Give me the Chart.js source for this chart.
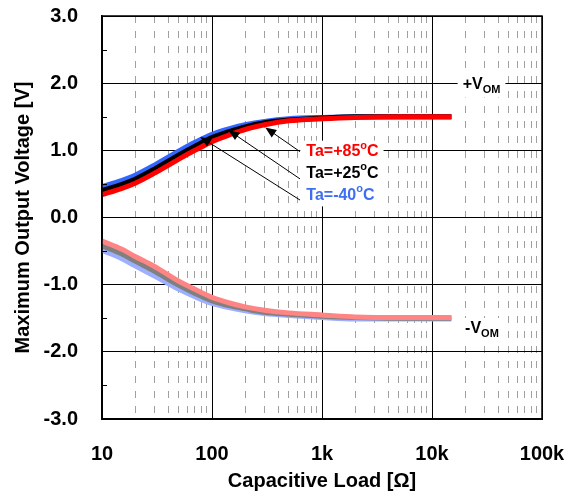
<!DOCTYPE html>
<html>
<head>
<meta charset="utf-8">
<script src="https://cdn.jsdelivr.net/npm/chart.js@4"></script>
<style>
  html, body { margin: 0; padding: 0; background: #fff; }
  #chart { display: block; }
</style>
</head>
<body>
<canvas id="chart" width="579" height="498"></canvas>
<script>
// 데이터
const CAP_LOAD = [10, 15, 20, 30, 50, 70, 100, 150, 200, 300, 500, 1000, 2000, 5000, 15000];

// +VOM
const VOH_85 = [0.34, 0.43, 0.51, 0.66, 0.87, 1.00, 1.13, 1.24, 1.31, 1.38, 1.44, 1.47, 1.49, 1.50, 1.50];
const VOH_25 = [0.40, 0.49, 0.57, 0.72, 0.93, 1.06, 1.19, 1.29, 1.35, 1.41, 1.45, 1.48, 1.50, 1.50, 1.50];
const VOH_M40 = [0.46, 0.55, 0.63, 0.78, 0.99, 1.12, 1.24, 1.33, 1.38, 1.43, 1.47, 1.49, 1.50, 1.50, 1.50];

// -VOM
const VOL_85 = [-0.35, -0.47, -0.58, -0.73, -0.95, -1.07, -1.19, -1.28, -1.33, -1.38, -1.42, -1.45, -1.48, -1.49, -1.49];
const VOL_25 = [-0.42, -0.54, -0.65, -0.80, -1.01, -1.13, -1.24, -1.32, -1.36, -1.41, -1.44, -1.47, -1.49, -1.50, -1.50];
const VOL_M40 = [-0.49, -0.61, -0.72, -0.87, -1.07, -1.18, -1.28, -1.35, -1.39, -1.43, -1.46, -1.49, -1.51, -1.51, -1.51];

// 축 눈금
const X_MAJOR = [10, 100, 1000, 10000, 100000];
const X_MAJOR_LABELS = ['10', '100', '1k', '10k', '100k'];
const X_MINOR_STEPS = [2, 3, 4, 5, 6, 7, 8, 9];
const Y_MINOR = [-2.5, -1.5, -0.5, 0.5, 1.5, 2.5];

const TEMP_LABELS = ['Ta=+85', 'Ta=+25', 'Ta=-40'];

const FONT = 'Arial, "Liberation Sans", sans-serif';

// 주석 위치 (데이터 좌표)
const TEMP_LABEL_POS = { x: 720, y: [0.98, 0.66, 0.33] };
const ARROWS = [
    { from: [631, 0.98], to: [305, 1.34] },
    { from: [631, 0.575], to: [141, 1.30] },
    { from: [631, 0.26], to: [78, 1.20] },
];
const VOM_POS = [
    { sign: '+', x: 19000, y: 1.98 },
    { sign: '-', x: 20000, y: -1.66 },
];

function series(ys) {
    return CAP_LOAD.map((x, i) => ({ x, y: ys[i] }));
}

function buildXTicks() {
    const ticks = [];
    X_MAJOR.forEach((d, i) => {
        ticks.push(d);
        if (i < X_MAJOR.length - 1) X_MINOR_STEPS.forEach(m => ticks.push(d * m));
    });
    return ticks;
}

function isDecade(v) {
    const l = Math.log10(v);
    return Math.abs(l - Math.round(l)) < 1e-9;
}

function lineDs(label, ys, color, width) {
    return {
        label,
        data: series(ys),
        borderColor: color,
        backgroundColor: color,
        borderWidth: width,
        pointRadius: 0,
        fill: false,
        cubicInterpolationMode: 'monotone',
    };
}

// 여러 크기의 글자(위첨자/아래첨자) 그리기
function richWidth(ctx, parts) {
    let w = 0;
    parts.forEach(p => {
        ctx.font = `bold ${p.size}px ${FONT}`;
        w += ctx.measureText(p.text).width;
    });
    return w;
}
function drawRich(ctx, x, y, parts, color) {
    ctx.fillStyle = color;
    ctx.textBaseline = 'middle';
    ctx.textAlign = 'left';
    parts.forEach(p => {
        ctx.font = `bold ${p.size}px ${FONT}`;
        ctx.fillText(p.text, x, y + (p.dy || 0));
        x += ctx.measureText(p.text).width;
    });
}
function tempParts(t) {
    return [{ text: t, size: 16 }, { text: 'o', size: 11, dy: -6 }, { text: 'C', size: 16 }];
}
function vomParts(sign) {
    return [{ text: sign + 'V', size: 16 }, { text: 'OM', size: 11, dy: 5 }];
}

const annotationPlugin = {
    id: 'annotations',
    beforeDatasetsDraw(chart) {
        const { ctx, scales: { x, y } } = chart;
        ctx.save();
        ctx.fillStyle = '#fff';
        // 온도 라벨 배경
        const lx = x.getPixelForValue(TEMP_LABEL_POS.x);
        let maxW = 0;
        TEMP_LABELS.forEach(t => { maxW = Math.max(maxW, richWidth(ctx, tempParts(t))); });
        const ty = y.getPixelForValue(TEMP_LABEL_POS.y[0]) - 11;
        const by = y.getPixelForValue(TEMP_LABEL_POS.y[TEMP_LABEL_POS.y.length - 1]) + 11;
        ctx.fillRect(lx - 6, ty, maxW + 11, by - ty);
        // VOM 라벨 배경
        VOM_POS.forEach(v => {
            const px = x.getPixelForValue(v.x);
            const py = y.getPixelForValue(v.y);
            const w = richWidth(ctx, vomParts(v.sign));
            ctx.fillRect(px - 5, py - 11, w + 10, 24);
        });
        ctx.restore();
    },
    afterDraw(chart) {
        const { ctx, chartArea: a, scales: { x, y } } = chart;
        ctx.save();
        // 테두리
        ctx.strokeStyle = '#000';
        ctx.lineWidth = 1.5;
        ctx.strokeRect(a.left, a.top, a.right - a.left, a.bottom - a.top);
        // y 보조 눈금
        ctx.lineWidth = 1;
        Y_MINOR.forEach(v => {
            const py = Math.round(y.getPixelForValue(v)) + 0.5;
            ctx.beginPath();
            ctx.moveTo(a.left, py);
            ctx.lineTo(a.left + 5, py);
            ctx.stroke();
        });
        // 화살표
        ARROWS.forEach(ar => {
            const x1 = x.getPixelForValue(ar.from[0]), y1 = y.getPixelForValue(ar.from[1]);
            const x2 = x.getPixelForValue(ar.to[0]), y2 = y.getPixelForValue(ar.to[1]);
            const ang = Math.atan2(y2 - y1, x2 - x1);
            ctx.strokeStyle = '#000';
            ctx.lineWidth = 1;
            ctx.beginPath();
            ctx.moveTo(x1, y1);
            ctx.lineTo(x2 - 8 * Math.cos(ang), y2 - 8 * Math.sin(ang));
            ctx.stroke();
            ctx.fillStyle = '#000';
            ctx.beginPath();
            ctx.moveTo(x2, y2);
            ctx.lineTo(x2 - 11 * Math.cos(ang) + 4.5 * Math.sin(ang), y2 - 11 * Math.sin(ang) - 4.5 * Math.cos(ang));
            ctx.lineTo(x2 - 11 * Math.cos(ang) - 4.5 * Math.sin(ang), y2 - 11 * Math.sin(ang) + 4.5 * Math.cos(ang));
            ctx.closePath();
            ctx.fill();
        });
        // 온도 라벨
        const tempColors = ['#ff0000', '#000000', '#3f6ff0'];
        const lx = x.getPixelForValue(TEMP_LABEL_POS.x);
        TEMP_LABELS.forEach((t, i) => {
            drawRich(ctx, lx, y.getPixelForValue(TEMP_LABEL_POS.y[i]), tempParts(t), tempColors[i]);
        });
        // VOM 라벨
        VOM_POS.forEach(v => {
            drawRich(ctx, x.getPixelForValue(v.x), y.getPixelForValue(v.y), vomParts(v.sign), '#000');
        });
        ctx.restore();
    },
};

const ctx = document.getElementById('chart').getContext('2d');
new Chart(ctx, {
    type: 'line',
    data: {
        datasets: [
            lineDs('Ta=+85°C', VOH_85, '#ff0000', 5),
            lineDs('Ta=+25°C', VOH_25, '#000000', 5),
            lineDs('Ta=-40°C', VOH_M40, '#3366ff', 5),
            lineDs('Ta=+85°C (-)', VOL_85, '#ff8585', 5),
            lineDs('Ta=+25°C (-)', VOL_25, '#808080', 5),
            lineDs('Ta=-40°C (-)', VOL_M40, '#9db0ff', 5),
        ],
    },
    options: {
        responsive: false,
        animation: false,
        devicePixelRatio: 1,
        layout: { padding: { top: 16, right: 37, left: 0, bottom: 0 } },
        plugins: {
            legend: { display: false },
            tooltip: { enabled: false },
            title: { display: false },
        },
        scales: {
            x: {
                type: 'logarithmic',
                min: 10,
                max: 100000,
                afterBuildTicks: (scale) => { scale.ticks = buildXTicks().map(v => ({ value: v })); },
                afterFit: (scale) => {
                    scale.height = 79;
                    scale.paddingLeft = 0;
                    scale.paddingRight = 0;
                },
                ticks: {
                    autoSkip: false,
                    maxRotation: 0,
                    padding: 23,
                    color: '#000',
                    font: { family: FONT, size: 20, weight: 'bold' },
                    callback: (v) => {
                        const i = X_MAJOR.indexOf(v);
                        return i >= 0 ? X_MAJOR_LABELS[i] : '';
                    },
                },
                grid: {
                    drawTicks: false,
                    color: (c) => (c.tick && !isDecade(c.tick.value) ? '#a0a0a0' : '#000'),
                    lineWidth: 1,
                },
                border: {
                    display: true,
                    color: '#000',
                    width: 2,
                    dash: (c) => (c.tick && !isDecade(c.tick.value) ? [7, 8] : []),
                },
                title: {
                    display: true,
                    text: 'Capacitive Load [Ω]',
                    color: '#000',
                    font: { family: FONT, size: 20, weight: 'bold' },
                    padding: { top: 0, bottom: 5 },
                },
            },
            y: {
                type: 'linear',
                min: -3,
                max: 3,
                afterFit: (scale) => {
                    scale.width = 102;
                    scale.paddingTop = 0;
                    scale.paddingBottom = 0;
                },
                ticks: {
                    stepSize: 1,
                    padding: 24,
                    color: '#000',
                    font: { family: FONT, size: 20, weight: 'bold' },
                    callback: (v) => Number(v).toFixed(1),
                },
                grid: {
                    drawTicks: false,
                    color: '#000',
                    lineWidth: 1,
                },
                border: { display: true, color: '#000', width: 1.5 },
                title: {
                    display: true,
                    text: 'Maximum Output Voltage [V]',
                    color: '#000',
                    font: { family: FONT, size: 20, weight: 'bold' },
                    padding: { top: 11, bottom: 0 },
                },
            },
        },
    },
    plugins: [annotationPlugin],
});
</script>
</body>
</html>
